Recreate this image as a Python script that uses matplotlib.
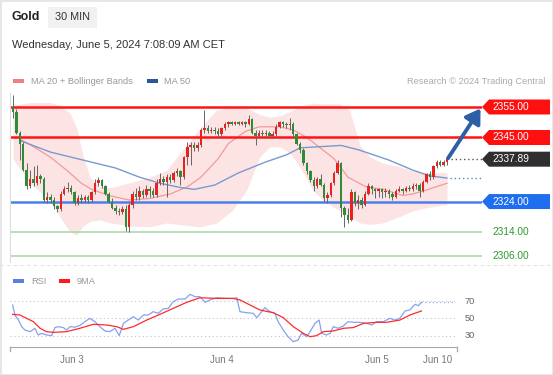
import numpy as np
import matplotlib
matplotlib.use('Agg')
import matplotlib.pyplot as plt
from matplotlib.patches import Polygon, Rectangle
from matplotlib.lines import Line2D

plt.rcParams['font.family'] = ['Liberation Sans', 'DejaVu Sans']

# 30 min candles, Gold (open of first bar, then close/high/low per bar)
first_open = 2355.0
closes = [2353.5, 2346.5, 2343.0, 2334.5, 2329.0, 2331.5, 2330.0, 2332.5, 2331.5, 2324.5,
          2325.5, 2324.5, 2322.5, 2321.5, 2326.5, 2328.0, 2328.5, 2327.0, 2323.5, 2325.0,
          2324.5, 2325.5, 2324.5, 2327.0, 2330.0, 2331.0, 2329.0, 2326.5, 2324.0, 2322.0,
          2321.0, 2320.5, 2321.5, 2315.5, 2323.0, 2326.5, 2325.5, 2327.5, 2326.0, 2328.0,
          2327.5, 2326.0, 2330.0, 2331.5, 2330.5, 2332.0, 2331.0, 2333.5, 2334.0, 2332.0,
          2338.5, 2342.0, 2342.5, 2341.5, 2342.5, 2347.5, 2348.0, 2347.0, 2347.5, 2347.0,
          2346.0, 2348.0, 2349.5, 2350.0, 2349.5, 2350.0, 2349.5, 2350.0, 2349.5, 2351.0,
          2346.5, 2345.5, 2346.5, 2346.0, 2346.5, 2345.5, 2346.0, 2348.5, 2350.0, 2349.5,
          2349.0, 2349.5, 2346.0, 2343.0, 2341.0, 2336.5, 2334.0, 2331.0, 2329.0, 2331.5,
          2329.5, 2325.0, 2326.0, 2330.0, 2333.5, 2336.5, 2322.0, 2319.5, 2318.0, 2327.0,
          2323.5, 2324.5, 2323.0, 2326.5, 2329.0, 2328.0, 2327.5, 2328.0, 2327.0, 2327.5,
          2326.5, 2325.5, 2327.5, 2328.0, 2327.5, 2328.5, 2328.0, 2329.0, 2329.5, 2327.5,
          2330.5, 2333.0, 2332.0, 2335.5, 2337.0, 2336.0, 2337.0, 2337.89]
highs = [2359.0, 2354.5, 2347.0, 2343.5, 2336.5, 2334.5, 2335.5, 2336.0, 2333.0, 2332.0,
         2327.0, 2326.5, 2325.5, 2323.0, 2327.5, 2329.0, 2330.5, 2329.5, 2327.5, 2326.0,
         2326.5, 2326.0, 2326.0, 2327.5, 2331.5, 2332.0, 2331.5, 2329.5, 2327.0, 2325.0,
         2323.0, 2322.0, 2322.5, 2323.0, 2323.5, 2327.5, 2328.5, 2329.0, 2328.0, 2329.5,
         2329.0, 2328.5, 2331.5, 2333.5, 2332.5, 2333.0, 2333.0, 2334.0, 2335.0, 2334.5,
         2339.0, 2343.5, 2343.5, 2343.5, 2343.5, 2348.0, 2354.0, 2349.0, 2348.5, 2348.5,
         2348.0, 2348.5, 2350.0, 2350.5, 2350.5, 2350.5, 2350.5, 2350.5, 2350.5, 2352.5,
         2351.5, 2347.5, 2347.5, 2347.5, 2347.5, 2347.0, 2347.0, 2349.5, 2350.5, 2350.5,
         2350.0, 2351.5, 2350.0, 2346.5, 2343.5, 2341.5, 2337.0, 2334.5, 2332.0, 2332.0,
         2333.0, 2330.0, 2327.0, 2330.5, 2334.0, 2337.5, 2337.0, 2322.5, 2322.0, 2328.0,
         2327.5, 2326.0, 2325.5, 2327.5, 2330.0, 2329.5, 2328.5, 2328.5, 2328.5, 2328.5,
         2328.0, 2327.0, 2328.0, 2329.0, 2328.5, 2329.0, 2329.5, 2330.0, 2330.0, 2330.0,
         2331.0, 2333.5, 2334.0, 2336.0, 2337.5, 2337.5, 2337.5, 2338.2]
lows = [2351.5, 2346.0, 2337.5, 2334.0, 2328.0, 2328.5, 2329.0, 2329.5, 2330.0, 2324.0,
        2323.5, 2323.5, 2321.5, 2320.5, 2321.0, 2326.0, 2327.0, 2326.5, 2323.0, 2323.0,
        2323.5, 2323.5, 2323.5, 2324.0, 2326.5, 2329.0, 2328.5, 2326.0, 2323.5, 2321.5,
        2320.0, 2319.5, 2320.0, 2314.5, 2314.0, 2322.0, 2324.5, 2324.5, 2325.0, 2325.5,
        2325.5, 2325.5, 2325.5, 2329.5, 2329.5, 2325.5, 2330.0, 2330.5, 2332.5, 2329.5,
        2331.5, 2336.0, 2336.0, 2340.5, 2340.5, 2342.0, 2346.5, 2346.5, 2346.5, 2346.0,
        2345.0, 2345.0, 2347.5, 2348.5, 2349.0, 2349.0, 2349.0, 2349.0, 2348.5, 2349.0,
        2346.0, 2342.5, 2345.0, 2345.5, 2345.0, 2345.0, 2345.0, 2345.5, 2348.0, 2348.5,
        2348.0, 2347.5, 2345.5, 2342.5, 2340.0, 2336.0, 2333.0, 2330.5, 2327.5, 2328.5,
        2329.0, 2324.0, 2323.5, 2325.5, 2329.5, 2333.0, 2319.0, 2315.5, 2317.0, 2317.5,
        2322.5, 2321.5, 2322.0, 2322.5, 2326.0, 2326.5, 2325.0, 2325.5, 2325.0, 2325.5,
        2325.0, 2324.5, 2325.0, 2327.0, 2326.5, 2327.0, 2327.5, 2327.5, 2328.0, 2325.5,
        2327.0, 2330.0, 2331.0, 2331.5, 2335.0, 2335.5, 2335.5, 2336.0]

# indicators (bar index, value)
ma20_idx = [2, 6, 11, 16, 20, 23, 28, 34, 40, 46, 51, 55, 60, 63, 68, 72, 78, 82, 86, 90,
            94, 98, 103, 109, 114, 117, 121, 127]
ma20_val = [2344.5, 2342.0, 2338.5, 2334.0, 2330.0, 2328.0, 2326.0, 2324.5, 2325.0, 2326.5,
            2328.8, 2332.0, 2338.0, 2343.0, 2347.0, 2348.5, 2348.5, 2347.5, 2345.0, 2341.5,
            2338.0, 2332.0, 2329.0, 2327.8, 2326.0, 2326.5, 2327.8, 2330.0]
ma50_idx = [2, 11, 20.5, 30, 37, 43, 49, 53, 59, 66, 74, 80, 84, 90, 96, 101, 105, 110,
            117, 122, 127]
ma50_val = [2344.0, 2340.2, 2337.6, 2335.0, 2332.0, 2330.0, 2328.6, 2328.0, 2329.4, 2333.4,
            2337.0, 2339.3, 2341.6, 2342.0, 2342.4, 2341.0, 2339.5, 2337.6, 2334.3, 2332.4,
            2331.7]
band_idx = [0, 5, 10.8, 13.7, 16.7, 18.7, 20.5, 22.5, 25.4, 28.4, 35, 40, 45, 49.7, 54.7,
            59.6, 64.3, 68.4, 72.2, 75, 78, 81, 84, 87.7, 90.6, 95.6, 98.5, 101.5, 104.4,
            108.2, 113, 117, 121, 127]
band_up = [2355.5, 2356.5, 2356.5, 2355.5, 2353.0, 2348.0, 2339.0, 2332.0, 2329.0, 2328.5,
           2330.4, 2332.0, 2334.3, 2341.0, 2348.0, 2354.0, 2355.0, 2354.7, 2352.5, 2351.7,
           2352.0, 2353.5, 2355.0, 2356.3, 2356.0, 2356.0, 2354.0, 2342.5, 2338.6, 2336.6,
           2335.5, 2334.0, 2333.5, 2333.5]
band_lo = [2338.0, 2330.0, 2324.5, 2319.0, 2314.0, 2313.0, 2316.0, 2317.5, 2318.0, 2317.0,
           2316.0, 2315.7, 2317.0, 2316.3, 2315.7, 2317.0, 2321.2, 2327.8, 2338.6, 2341.8,
           2342.0, 2340.0, 2335.3, 2327.8, 2324.5, 2321.0, 2319.0, 2317.0, 2316.5, 2317.0,
           2319.0, 2321.0, 2322.0, 2323.0]

rsi_idx = [0.2, 0.9, 2, 3, 4, 5.6, 7.1, 8.1, 9.2, 10.7, 12.3, 13.3, 14.3, 15.9, 16.9, 18,
           19.5, 21, 22.6, 24.1, 25.7, 27.2, 28.8, 30.3, 31.9, 33.2, 34.5, 36, 37.6, 39.1,
           40.7, 42.2, 43.7, 45.3, 46.8, 48.4, 49.9, 51.5, 53.6, 55.1, 56.7, 58.2, 59.8,
           61.3, 63.4, 66.5, 68.5, 69.6, 70.6, 72.7, 74.7, 75.8, 77.3, 78.3, 79.9, 81.4,
           82.4, 84, 85.5, 87.1, 88.6, 89.7, 91.2, 92.3, 93.8, 95.1, 95.9, 97.4, 98.5, 99.5,
           101, 102.6, 104.1, 105.7, 107.7, 109.8, 111.4, 112.9, 115, 117, 118.6, 120.1,
           121.7, 123.2, 124.8, 125.8, 126.8]
rsi_val = [65.4, 53.8, 48.0, 40.4, 36.5, 34.6, 38.5, 30.8, 32.7, 30.8, 30.0, 39.3, 40.4,
           39.3, 36.5, 40.4, 39.8, 41.7, 46.2, 50.0, 46.2, 40.4, 35.4, 34.6, 38.5, 30.0, 44.2,
           48.0, 51.9, 48.0, 53.8, 53.8, 57.7, 55.8, 60.8, 61.5, 69.2, 72.3, 72.3, 77.7, 75.0,
           75.0, 68.5, 71.2, 73.8, 73.0, 73.0, 73.8, 57.7, 56.5, 55.8, 50.8, 57.7, 62.3, 57.7,
           55.8, 46.2, 36.5, 28.8, 23.0, 25.0, 32.7, 28.8, 34.6, 44.2, 48.0, 32.7, 30.8, 32.7,
           40.4, 38.5, 41.2, 46.2, 45.4, 45.4, 44.2, 42.3, 46.2, 46.2, 50.0, 48.0, 50.0, 58.5,
           59.6, 66.2, 64.6, 68.5]
rsi_ma_idx = [0.2, 2.5, 4.5, 6.6, 8.7, 10.7, 12.8, 16.9, 21, 25.2, 29.3, 32.4, 34.5, 37.6,
              41.7, 45.8, 49.9, 54.1, 58.2, 63.4, 68.5, 70.6, 73.7, 76.8, 80.9, 84, 87.1,
              90.2, 92.3, 94.3, 96.4, 99.5, 102.6, 105.7, 108.8, 112.9, 116, 120.1, 123.2,
              126.8]
rsi_ma_val = [54.6, 53.8, 50.0, 46.2, 38.5, 34.6, 33.8, 34.6, 38.5, 43.1, 42.3, 40.4, 37.3,
              40.4, 48.0, 54.6, 61.5, 68.5, 73.8, 73.0, 73.0, 71.2, 65.4, 59.6, 56.5, 50.8,
              40.4, 32.7, 28.8, 30.0, 34.6, 35.4, 38.5, 39.3, 44.2, 45.4, 45.4, 48.0, 53.8,
              58.5]

# key levels
resistances = [2355.0, 2345.0]
pivot = 2324.0
supports = [2314.0, 2306.0]
last_price = 2337.89
target = 2355.0

day_ticks = [18.6, 65, 113, 131.7]
day_labels = ['Jun 3', 'Jun 4', 'Jun 5', 'Jun 10']
rsi_levels = [70, 50, 30]

W, H = 553, 375


def fx(x):
    return x / W


def fy(y):
    return 1 - y / H


fig = plt.figure(figsize=(W / 100, H / 100), dpi=100)
fig.patch.set_facecolor('white')

# header
fig.text(fx(12), fy(17), 'Gold', fontsize=9, fontweight='bold', color='#222', va='center')
fig.add_artist(Rectangle((fx(48), fy(28)), 49 / W, 21 / H, transform=fig.transFigure,
                         fc='#f1f1f1', ec='none'))
fig.text(fx(72.5), fy(17.5), '30 MIN', fontsize=7.8, color='#333', va='center', ha='center')
fig.text(fx(12), fy(45), 'Wednesday, June 5, 2024 7:08:09 AM CET', fontsize=8,
         color='#333', va='center')

# legend main
fig.add_artist(Rectangle((fx(13), fy(83)), 11 / W, 4 / H, transform=fig.transFigure,
                         fc='#f08080', ec='none'))
fig.text(fx(31), fy(81), 'MA 20 + Bollinger Bands', fontsize=6.7, color='#999', va='center')
fig.add_artist(Rectangle((fx(147), fy(83)), 11 / W, 4 / H, transform=fig.transFigure,
                         fc='#2b5797', ec='none'))
fig.text(fx(164), fy(81), 'MA 50', fontsize=6.7, color='#999', va='center')
fig.text(fx(545), fy(81), 'Research \u00a9 2024 Trading Central', fontsize=6.7,
         color='#aaa', va='center', ha='right')

# main price panel
ax = fig.add_axes([fx(10), fy(262), 472 / W, 169 / H])
ax.set_xlim(-0.88, 137.24)
ax.set_ylim(2304.18, 2359.59)
for s in ['top', 'right', 'bottom']:
    ax.spines[s].set_visible(False)
ax.spines['left'].set_color('#dcdcdc')
ax.set_xticks([])
ax.set_yticks([])
ax.set_facecolor('none')

ax.fill_between(band_idx, band_lo, band_up, color='#fde4e4', lw=0, zorder=1)
ax.plot(ma20_idx, ma20_val, color='#f39a9a', lw=0.9, zorder=2)
ax.plot(ma50_idx, ma50_val, color='#7b99cf', lw=1.0, zorder=2)

for lv in resistances:
    ax.axhline(lv, color='#ff1414', lw=1.8, zorder=2.5)
ax.axhline(pivot, color='#4a80e8', lw=1.8, zorder=2.5)
for lv in supports:
    ax.axhline(lv, color='#abdaa8', lw=1.2, zorder=2.5)

o = np.array([first_open] + closes[:-1])
c = np.array(closes)
x = np.arange(len(c))
up = c >= o
body_col = np.where(up, '#e8231f', '#2e8b36')
ax.vlines(x, lows, highs, color='#666', lw=0.7, zorder=3)
ax.bar(x, np.maximum(np.abs(c - o), 0.35), bottom=np.minimum(o, c), width=0.72,
       color=body_col, lw=0, zorder=4)

ax.plot([x[-1] + 1.3, 137.24], [last_price, last_price], ls=(0, (1, 2)), color='#555',
        lw=1, zorder=3)
ax.plot([x[-1] + 1.0, 137.24], [ma50_val[-1], ma50_val[-1]], ls=(0, (1, 2)), color='#5b86d6',
        lw=1, zorder=3)

ax.annotate('', xy=(136.8, target - 0.5), xytext=(x[-1] + 0.3, last_price + 0.3),
            arrowprops=dict(arrowstyle='-|>,head_length=0.7,head_width=0.45', lw=2.8,
                            color='#2d5fa6', mutation_scale=12, shrinkA=0, shrinkB=0),
            zorder=6)

# price tags on the right
inv = fig.transFigure.inverted()


def yfrac(price):
    return inv.transform(ax.transData.transform((0, price)))[1]


def tag(price, color, label):
    yf = yfrac(price)
    h = 7.5 / H
    pts = [(fx(482), yf), (fx(489), yf + h), (fx(550), yf + h), (fx(550), yf - h),
           (fx(489), yf - h)]
    fig.add_artist(Polygon(pts, closed=True, transform=fig.transFigure, fc=color, ec='none'))
    fig.text(fx(492.5), yf, label, color='white', fontsize=7.3, va='center', ha='left')


for lv in resistances:
    tag(lv, '#ff1010', '%.2f' % lv)
tag(last_price, '#2f2f2f', '%.2f' % last_price)
tag(pivot, '#1f6ef0', '%.2f' % pivot)
for lv in supports:
    fig.text(fx(492.5), yfrac(lv), '%.2f' % lv, color='#2e9a2e', fontsize=7.3, va='center')

# separator
fig.add_artist(Line2D([0, 1], [fy(265), fy(265)], transform=fig.transFigure,
                      ls=(0, (3, 3)), color='#e2e2e2', lw=0.8))

# RSI legend
fig.add_artist(Rectangle((fx(13), fy(283)), 11 / W, 4 / H, transform=fig.transFigure,
                         fc='#5b7fe3', ec='none'))
fig.text(fx(31), fy(281), 'RSI', fontsize=6.7, color='#999', va='center')
fig.add_artist(Rectangle((fx(59), fy(283)), 11 / W, 4 / H, transform=fig.transFigure,
                         fc='#ff1a1a', ec='none'))
fig.text(fx(77), fy(281), '9MA', fontsize=6.7, color='#999', va='center')

# RSI panel
ax2 = fig.add_axes([fx(10), fy(347), 447 / W, 64 / H])
ax2.set_xlim(-0.62, 137.8)
ax2.set_ylim(16.9, 90.8)
for s in ['top', 'right', 'left']:
    ax2.spines[s].set_visible(False)
ax2.spines['bottom'].set_color('#aaaaaa')
ax2.set_facecolor('none')
ax2.set_yticks([])
ax2.set_xticks(day_ticks)
ax2.set_xticklabels(day_labels)
ax2.tick_params(axis='x', length=0, pad=6, labelsize=7, labelcolor='#777')

for lv in rsi_levels:
    ax2.plot([-0.62, 137.3], [lv, lv], ls=(0, (1, 2.5)), color='#c4c4c4', lw=0.8, zorder=1)
    ax2.text(1.018, lv, str(lv), transform=ax2.get_yaxis_transform(), fontsize=6.7,
             color='#666', va='center', ha='left')

ax2.plot(rsi_idx, rsi_val, color='#86a2f0', lw=0.9, zorder=2)
ax2.plot(rsi_ma_idx, rsi_ma_val, color='#ff2a2a', lw=0.9, zorder=3)
ax2.plot([rsi_idx[-1], 137.3], [rsi_val[-1], rsi_val[-1]], ls=(0, (1, 2)), color='#8fa8f0',
         lw=0.9, zorder=2)

for xe in ax2.get_xlim():
    ax2.plot([xe, xe], [0, -0.06], transform=ax2.get_xaxis_transform(), clip_on=False,
             color='#aaaaaa', lw=1)

# outer frame
fig.add_artist(Rectangle((0, 0), 1, 1, transform=fig.transFigure, fill=False,
                         ec='#e6e6e6', lw=2))

fig.savefig('out.png', dpi=100)
